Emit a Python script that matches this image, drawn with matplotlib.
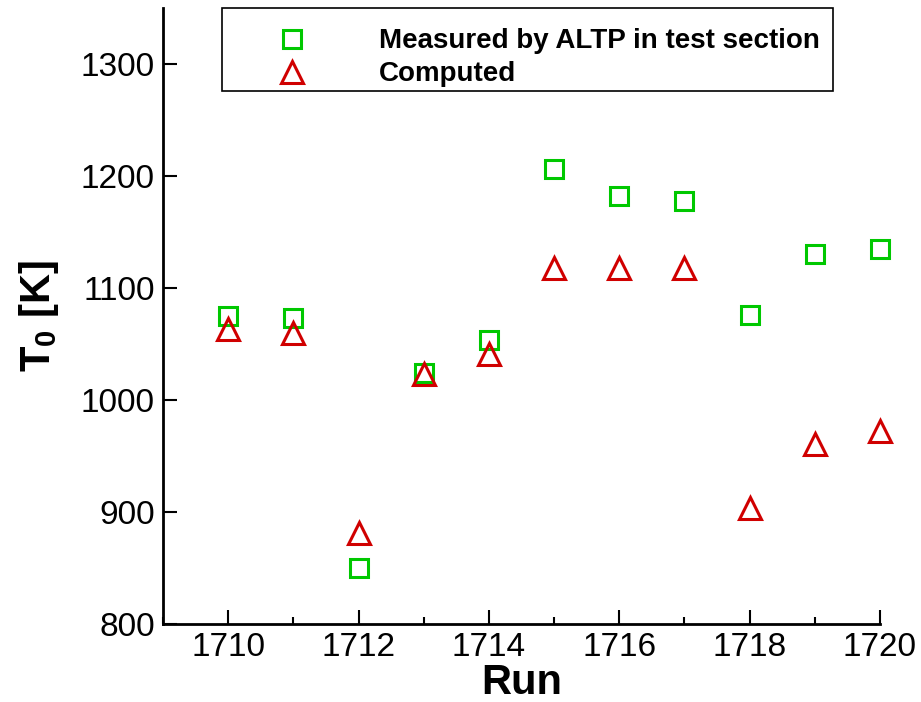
import matplotlib
matplotlib.use("Agg")
import matplotlib.pyplot as plt
from matplotlib.ticker import MultipleLocator
from matplotlib.patches import Rectangle

runs = [1710, 1711, 1712, 1713, 1714, 1715, 1716, 1717, 1718, 1719, 1720]
measured = [1075, 1073, 850, 1024, 1054, 1206, 1182, 1178, 1076, 1130, 1135]
computed = [1063, 1060, 881, 1023, 1041, 1118, 1118, 1118, 904, 961, 972]
xticks = [1710, 1712, 1714, 1716, 1718, 1720]
yticks = [800, 900, 1000, 1100, 1200, 1300]

plt.rcParams['font.family'] = ['Liberation Sans', 'DejaVu Sans']
plt.rcParams['mathtext.fontset'] = 'custom'
plt.rcParams['mathtext.bf'] = 'Liberation Sans:bold'
plt.rcParams['mathtext.rm'] = 'Liberation Sans'

W, H = 921, 702
fig = plt.figure(figsize=(W/100, H/100), dpi=100)
ax_l, ax_r, ax_t, ax_b = 163, 880, 8, 624
ax = fig.add_axes([ax_l/W, 1-ax_b/H, (ax_r-ax_l)/W, (ax_b-ax_t)/H])

green = '#00c800'
red = '#d00000'
ax.plot(runs, measured, linestyle='none', marker='s', markersize=13,
        markerfacecolor='none', markeredgecolor=green, markeredgewidth=2.2,
        label='Measured by ALTP in test section', clip_on=False)
ax.plot(runs, computed, linestyle='none', marker='^', markersize=16,
        markerfacecolor='none', markeredgecolor=red, markeredgewidth=2.2,
        label='Computed', clip_on=False)

ax.set_xlim(1709, 1720)
ax.set_ylim(800, 1350)
ax.set_xticks(xticks)
ax.set_yticks(yticks)
ax.xaxis.set_minor_locator(MultipleLocator(1))
ax.spines['top'].set_visible(False)
ax.spines['right'].set_visible(False)
ax.spines['left'].set_linewidth(2)
ax.spines['bottom'].set_linewidth(2)
ax.tick_params(axis='both', which='major', direction='in', length=10, width=1.5,
               labelsize=24, pad=6)
ax.tick_params(axis='x', which='minor', direction='in', length=5, width=1.5)

ax.set_xlabel('Run', fontsize=30, fontweight='bold', labelpad=0)
ax.set_ylabel(r'T$_{\mathbf{0}}$ [K]', fontsize=30, fontweight='bold', labelpad=14)

# legend (content positioned; frame drawn separately to match asymmetric padding)
leg = ax.legend(loc='upper left',
                bbox_to_anchor=((264-ax_l)/(ax_r-ax_l), 1-(28.4-ax_t)/(ax_b-ax_t)),
                borderaxespad=0, borderpad=0, frameon=False,
                prop={'weight': 'bold', 'size': 20}, handletextpad=2.13,
                labelspacing=0.25, handlelength=2.0)
fig.patches.append(Rectangle((222/W, 1-91/H), (833-222)/W, (91-8)/H,
                             transform=fig.transFigure, fill=False,
                             edgecolor='black', linewidth=1.2))

fig.savefig('out.png', dpi=100)
